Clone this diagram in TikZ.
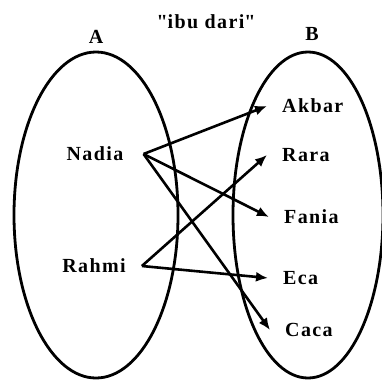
\documentclass[tikz,border=0pt]{standalone}
\usepackage{fontspec}
\setmainfont{Liberation Serif}
\usetikzlibrary{arrows.meta,shapes.geometric}

\begin{document}
\begin{tikzpicture}[x=1pt,y=-1pt,>={Latex[length=12pt,width=10pt]},
  font=\fontsize{20}{22}\selectfont\bfseries\addfontfeature{LetterSpace=7},
  himp/.style={draw,ellipse,line width=2.8pt,inner sep=0pt},
  nama/.style={inner sep=0pt},
  anak/.style={anchor=west,inner xsep=15pt,inner ysep=0pt},
  panah/.style={->,line width=2.6pt}]
\useasboundingbox (0,0) rectangle (382,381);
% himpunan A dan B
\node[himp,minimum width=164pt,minimum height=326pt] (setA) at (96,215) {};
\node[himp,minimum width=150pt,minimum height=326pt] (setB) at (308,215) {};
\node[nama] (labA) at (96,37) {A};
\node[nama] (labB) at (312,34) {B};
\node[nama] (rel) at (206,22) {\textquotedbl ibu dari\textquotedbl};
% anggota A
\node[nama,inner xsep=20pt] (nadia) at (95,154) {Nadia};
\node[nama,inner xsep=16pt] (rahmi) at (94,266) {Rahmi};
% anggota B
\node[anak] (akbar) at (267,106) {Akbar};
\node[anak] (rara) at (267,155) {Rara};
\node[anak] (fania) at (269,217) {Fania};
\node[anak] (eca) at (268,278) {Eca};
\node[anak] (caca) at (270,330) {Caca};
% relasi
\draw[panah] (nadia.east) -- (akbar.west);
\draw[panah] (nadia.east) -- (fania.west);
\draw[panah] (nadia.east) -- (caca.west);
\draw[panah] (rahmi.east) -- (rara.west);
\draw[panah] (rahmi.east) -- (eca.west);
\end{tikzpicture}
\end{document}
